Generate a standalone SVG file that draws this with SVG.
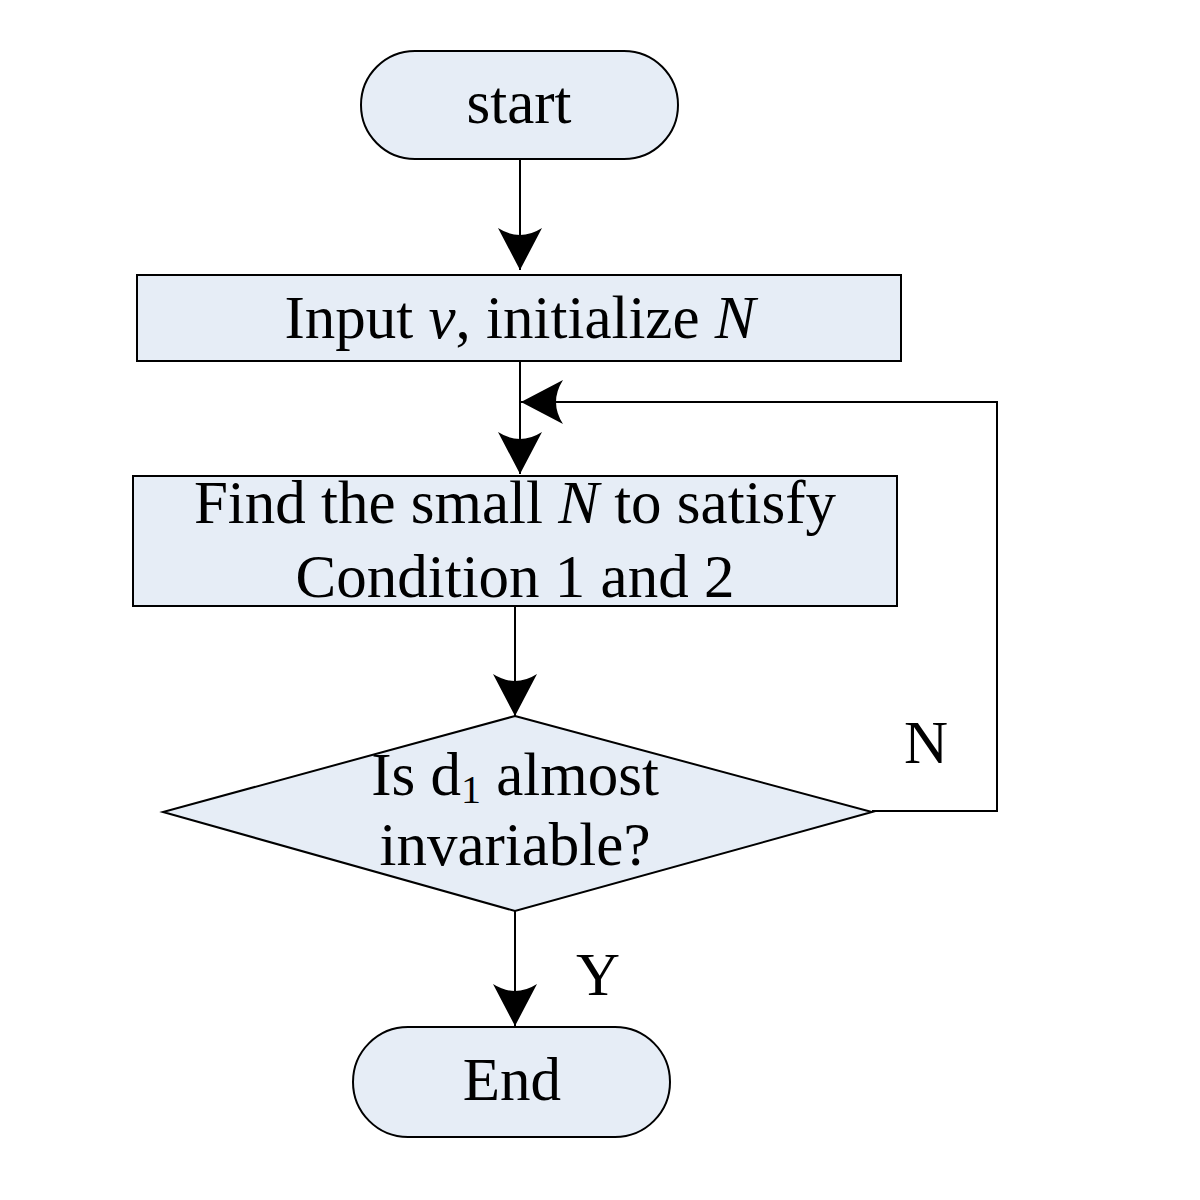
<svg xmlns="http://www.w3.org/2000/svg" width="1200" height="1200" viewBox="0 0 1200 1200">
<defs>
<style>
.box{fill:#e6edf6;stroke:#000;stroke-width:2}
.t{font-family:"Liberation Serif","Times New Roman",serif;font-size:61px;fill:#000;text-anchor:middle}
.c{fill:none;stroke:#000;stroke-width:2}
</style>
<marker id="ah" viewBox="0 0 42 44" refX="42" refY="22" markerWidth="42" markerHeight="44" markerUnits="userSpaceOnUse" orient="auto">
<path d="M42,22 L0,0 Q14,22 0,44 Z" fill="#000"/>
</marker>
</defs>
<rect width="1200" height="1200" fill="#fff"/>
<g id="connectors">
<path class="c" d="M520,159 V270" marker-end="url(#ah)"/>
<path class="c" d="M520,361 V474" marker-end="url(#ah)"/>
<path class="c" d="M515,606 V716" marker-end="url(#ah)"/>
<path class="c" d="M515,911 V1026" marker-end="url(#ah)"/>
<path class="c" d="M872,811 H997 V402 H521" marker-end="url(#ah)"/>
<text class="t" x="926" y="763">N</text>
<text class="t" x="598" y="995">Y</text>
</g>
<g id="start">
<rect class="box" x="361" y="51" width="317" height="108" rx="54" ry="54"/>
<text class="t" x="519" y="123">start</text>
</g>
<g id="input">
<rect class="box" x="137" y="275" width="764" height="86"/>
<text class="t" x="520" y="338">Input <tspan font-style="italic">v</tspan>, initialize <tspan font-style="italic">N</tspan></text>
</g>
<g id="find">
<rect class="box" x="133" y="476" width="764" height="130"/>
<text class="t" x="515" y="523">Find the small <tspan font-style="italic">N</tspan> to satisfy</text>
<text class="t" x="515" y="597">Condition 1 and 2</text>
</g>
<g id="decision">
<polygon class="box" points="515,716 872,812 515,911 163,812"/>
<text class="t" x="515" y="795">Is d<tspan font-size="40" dy="8">1</tspan><tspan dy="-8"> almost</tspan></text>
<text class="t" x="515" y="865">invariable?</text>
</g>
<g id="end">
<rect class="box" x="353" y="1027" width="317" height="110" rx="55" ry="55"/>
<text class="t" x="512" y="1100">End</text>
</g>
</svg>
